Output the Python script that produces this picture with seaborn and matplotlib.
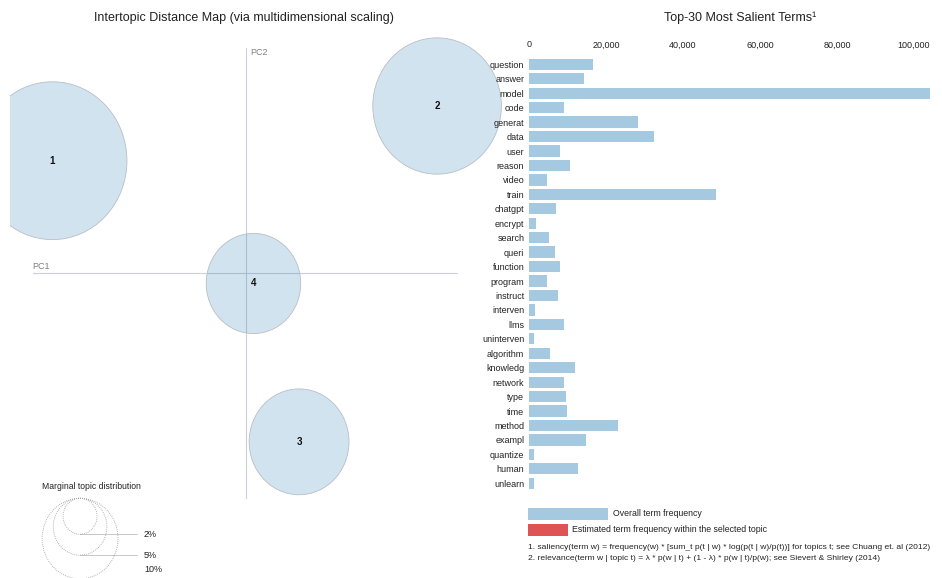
import numpy as np
import pandas as pd
import matplotlib
matplotlib.use("Agg")
import matplotlib.pyplot as plt
import seaborn as sns
from matplotlib.patches import Circle, Rectangle
from matplotlib.ticker import FuncFormatter

# ---------------- data ----------------
terms = ["question", "answer", "model", "code", "generat", "data", "user", "reason",
         "video", "train", "chatgpt", "encrypt", "search", "queri", "function", "program",
         "instruct", "interven", "llms", "uninterven", "algorithm", "knowledg", "network",
         "type", "time", "method", "exampl", "quantize", "human", "unlearn"]
freq = [16700, 14300, 104200, 9100, 28300, 32500, 8100, 10600,
        4800, 48700, 7100, 1700, 5300, 6800, 8100, 4800,
        7500, 1600, 9100, 1400, 5400, 11900, 9100,
        9600, 9800, 23100, 14800, 1400, 12600, 1200]
xticks = [0, 20000, 40000, 60000, 80000, 100000]

topic_ids = ["1", "2", "3", "4"]
topic_pc1 = [-0.322, 0.319, 0.089, 0.013]
topic_pc2 = [0.177, 0.263, -0.265, -0.016]
topic_share = [38.5, 28.7, 17.3, 15.5]        # marginal topic distribution (%)
legend_shares = [2, 5, 10]

# ---------------- style ----------------
sns.set_theme(style="white")
plt.rcParams["font.family"] = ["Liberation Sans", "DejaVu Sans"]

W, H = 942, 578
fig = plt.figure(figsize=(W / 100, H / 100), dpi=100)


def box(x0, y0, x1, y1):
    return [x0 / W, 1 - y1 / H, (x1 - x0) / W, (y1 - y0) / H]


def fx(x):
    return x / W


def fy(y):
    return 1 - y / H


R_SCALE = 0.02  # radius (data units) per sqrt(percent)
fill = (31 / 255, 119 / 255, 180 / 255, 0.2)

# ---------------- left: intertopic distance map ----------------
axL = fig.add_axes(box(10, 30, 520, 578))
axL.set_xlim(-0.3928, 0.4572)
axL.set_ylim(-0.4791, 0.3825)
axL.axis("off")

axis_col = "#c9d0d8"
axL.plot([-0.355, 0.3528], [0, 0], color=axis_col, lw=0.8, zorder=1)
axL.plot([0, 0], [0.3543, -0.3533], color=axis_col, lw=0.8, zorder=1)
axL.text(-0.355, 0.004, "PC1", color="#808080", fontsize=6.5, ha="left", va="bottom")
axL.text(0.007, 0.3543, "PC2", color="#808080", fontsize=6.5, ha="left", va="top")

for tid, x, y, s in zip(topic_ids, topic_pc1, topic_pc2, topic_share):
    r = R_SCALE * np.sqrt(s)
    axL.add_patch(Circle((x, y), r, facecolor=fill, edgecolor="#b8bec6", lw=0.6, zorder=2))
    axL.text(x, y, tid, fontsize=7, fontweight="bold", ha="center", va="center",
             color="#111111", zorder=3)

# marginal topic distribution legend
lx, ltop = -0.276, -0.3538
axL.text(-0.340, -0.3355, "Marginal topic distribution", fontsize=6.2, ha="left",
         va="center", color="#222222")
for s in legend_shares:
    r = R_SCALE * np.sqrt(s)
    axL.add_patch(Circle((lx, ltop - r), r, facecolor="none", edgecolor="#9a9a9a",
                         lw=0.6, ls=(0, (1.0, 1.4)), zorder=2))
    yb = ltop - 2 * r
    axL.plot([lx, -0.1817], [yb, yb], color="#c8c8c8", lw=0.7, zorder=1)
    axL.text(-0.1695, max(yb, -0.466), f"{s}%", fontsize=6.5, ha="left", va="center",
             color="#222222")

# ---------------- right: top-30 salient terms ----------------
df = pd.DataFrame({"term": terms, "freq": freq})
axR = fig.add_axes(box(529, 57.1, 933.25, 490.5))
sns.barplot(data=df, x="freq", y="term", orient="h", color="#a6c9e2", saturation=1,
            width=0.78, linewidth=0, ax=axR)
axR.set_xlim(0, 105000)
axR.set_ylim(len(terms) - 0.5, -0.5)
axR.set_xticks(xticks)
axR.xaxis.set_major_formatter(FuncFormatter(lambda v, p: f"{v:,.0f}"))
axR.xaxis.tick_top()
axR.tick_params(axis="x", length=0, pad=5.5, labelsize=6.5, labelcolor="#222222")
axR.tick_params(axis="y", length=0, pad=3.4, labelsize=6.5, labelcolor="#222222")
axR.set_xlabel("")
axR.set_ylabel("")
for sp in axR.spines.values():
    sp.set_visible(False)
axR.patch.set_alpha(0)

# ---------------- titles ----------------
fig.text(fx(244), fy(18), "Intertopic Distance Map (via multidimensional scaling)",
         ha="center", va="center", fontsize=9, color="#222222")
fig.text(fx(740), fy(18), "Top-30 Most Salient Terms\u00b9",
         ha="center", va="center", fontsize=9, color="#222222")

# ---------------- bar legend & footnotes ----------------
fig.add_artist(Rectangle((fx(528), fy(519.5)), 80 / W, 11.5 / H,
                         transform=fig.transFigure, facecolor="#a6c9e2", lw=0))
fig.text(fx(613), fy(513.5), "Overall term frequency", fontsize=6.3, va="center",
         color="#222222")
fig.add_artist(Rectangle((fx(528), fy(535.5)), 40 / W, 11.5 / H,
                         transform=fig.transFigure, facecolor="#de5354", lw=0))
fig.text(fx(572), fy(529.5), "Estimated term frequency within the selected topic",
         fontsize=6.3, va="center", color="#222222")
fig.text(fx(528), fy(547.5),
         "1. saliency(term w) = frequency(w) * [sum_t p(t | w) * log(p(t | w)/p(t))] "
         "for topics t; see Chuang et. al (2012)", fontsize=6.1, va="center", color="#222222")
fig.text(fx(528), fy(559),
         "2. relevance(term w | topic t) = \u03bb * p(w | t) + (1 - \u03bb) * p(w | t)/p(w); "
         "see Sievert & Shirley (2014)", fontsize=6.1, va="center", color="#222222")

fig.savefig("out.png", dpi=100)
